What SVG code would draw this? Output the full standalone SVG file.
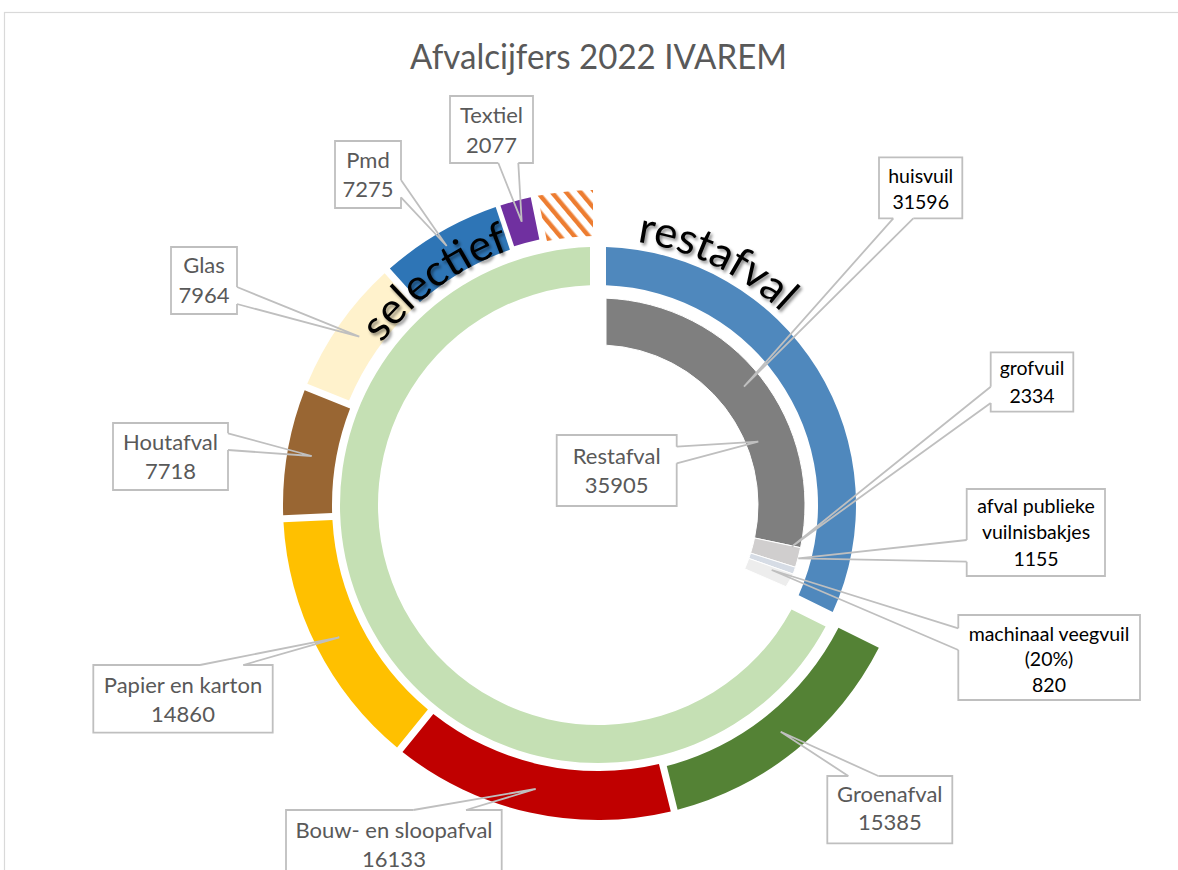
<svg xmlns="http://www.w3.org/2000/svg" width="1178" height="870" viewBox="0 0 1178 870">
<defs>
<style>
.box{fill:none;stroke:#BFBFBF;stroke-width:1.8}
.lead{fill:none;stroke:#BFBFBF;stroke-width:1.8;stroke-linejoin:miter}
.lbl{font-family:Lato,"Liberation Sans",sans-serif;font-size:22px;fill:#595959;text-anchor:middle}
.lbr{font-family:Lato,"Liberation Sans",sans-serif;font-size:19.5px;fill:#000;text-anchor:middle}
.arc{font-family:Lato,"Liberation Sans",sans-serif;font-size:43.5px;fill:#000;filter:url(#sh)}
.sep{stroke:#fff;stroke-width:1}
</style>
<pattern id="hatch" patternUnits="userSpaceOnUse" width="11" height="11" patternTransform="rotate(-40)">
<rect width="11" height="11" fill="#fff"/><rect width="4.5" height="11" fill="#ED7D31"/>
</pattern>
<filter id="sh" x="-20%" y="-20%" width="140%" height="140%">
<feDropShadow dx="2" dy="2.5" stdDeviation="1.5" flood-color="#000" flood-opacity="0.45"/>
</filter>
<path id="pRest" d="M621.18,240.01 A266,266 0 0,1 828.36,372"/>
<path id="pSel" d="M364.17,370 A270,270 0 0,1 551.11,239.1"/>
</defs>
<rect x="4.5" y="12.5" width="1200" height="900" fill="#fff" stroke="#D9D9D9" stroke-width="1.2"/>
<text id="title" x="598.5" y="69" font-family="Lato,'Liberation Sans',sans-serif" font-size="35" fill="#595959" text-anchor="middle" textLength="377" lengthAdjust="spacingAndGlyphs">Afvalcijfers 2022 IVAREM</text>

<g id="ring-outer">
<path id="seg-groenafval" d="M878.83,647.7 A315,315 0 0,1 677.59,809.78 L666.76,766.1 A270,270 0 0,0 838.46,627.79 Z" fill="#548235"/>
<path id="seg-bouw" d="M670.8,811.48 A315,315 0 0,1 402.5,752 L433.34,713.91 A266,266 0 0,0 658.95,763.92 Z" fill="#C00000"/>
<path id="seg-papier" d="M397.05,747.58 A315,315 0 0,1 283.47,522.24 L332.43,520.1 A266,266 0 0,0 427.89,709.5 Z" fill="#FFC000"/>
<path id="seg-hout" d="M283.17,515.24 A315,315 0 0,1 304.64,390.25 L350.08,408.61 A266,266 0 0,0 332.12,513.11 Z" fill="#996633"/>
<path id="seg-glas" d="M307.26,383.76 A315,315 0 0,1 384.63,273.27 L414.71,306.74 A270,270 0 0,0 349.01,400.57 Z" fill="#FFF2CC"/>
<path id="seg-pmd" d="M389.84,268.58 A315,315 0 0,1 495.68,207.08 L509.92,249.77 A270,270 0 0,0 419.99,301.99 Z" fill="#2E75B6"/>
<path id="seg-textiel" d="M500.42,205.49 A315,315 0 0,1 530.7,197.27 L539.34,239.4 A272,272 0 0,0 514.12,246.25 Z" fill="#7030A0"/>
<path id="seg-overig" d="M537.55,195.85 A315,315 0 0,1 593,190.04 L593,236.05 A269,269 0 0,0 546.92,240.89 Z" fill="url(#hatch)"/>
</g>

<g id="ring-middle">
<path id="seg-restafval-totaal" d="M606,247.12 A258,258 0 0,1 832.72,612.07 L798.65,595.24 A220,220 0 0,0 606,285.15 Z" fill="#4F88BD"/>
<path id="seg-selectief-totaal" d="M825.62,626.45 A258,258 0 1,1 590,247.12 L590,285.15 A220,220 0 1,0 791.54,609.6 Z" fill="#C5E0B4"/>
</g>

<g id="ring-inner">
<path id="seg-huisvuil" class="sep" d="M606,298.15 A207,207 0 0,1 800.55,547.68 L754.56,537.99 A160,160 0 0,0 606,345.2 Z" fill="#7F7F7F"/>
<path id="seg-grofvuil" class="sep" d="M800.55,547.68 A207,207 0 0,1 795.42,567.25 L750.6,553.11 A160,160 0 0,0 754.56,537.99 Z" fill="#D0CECE"/>
<path id="seg-publiek" class="sep" d="M795.42,567.25 A207,207 0 0,1 793.13,574.1 L748.82,558.41 A160,160 0 0,0 750.6,553.11 Z" fill="#D6DCE5"/>
<path id="seg-veegvuil" class="sep" d="M793.13,574.1 A205,205 0 0,1 786,586.7 L744.7,568.8 A160,160 0 0,0 748.82,558.41 Z" fill="#EDEDED"/>
</g>

<g id="arc-labels">
<text class="arc"><textPath href="#pRest" startOffset="16">restafval</textPath></text>
<text class="arc"><textPath href="#pSel" startOffset="32">selectief</textPath></text>
</g>

<g id="connectors">
<path class="lead" d="M498.3,163 L521.7,221.7 L518.3,163"/>
<path class="lead" d="M401,180 L446.7,246 L401,197.3"/>
<path class="lead" d="M237,287 L359.3,336.7 L237,304"/>
<path class="lead" d="M228,433.3 L311.7,456 L228,450"/>
<path class="lead" d="M200,665 L339.3,637.3 L243.3,665"/>
<path class="lead" d="M413.3,810 L535.7,789 L466,810"/>
<path class="lead" d="M848.3,776 L780.7,731.7 L878.3,776"/>
<path class="lead" d="M893.3,218.3 L744,386.7 L913.3,218.3"/>
<path class="lead" d="M990.7,386.7 L791.7,546.7 L990.7,403"/>
<path class="lead" d="M966.7,540 L798.3,558.3 L966.7,561.7"/>
<path class="lead" d="M958.3,628.3 L771.7,570 L958.3,650"/>
<path class="lead" d="M676.7,446.7 L758.3,441.7 L676.7,463.3"/>
</g>

<g id="label-textiel"><path class="box" d="M518.3,163 H533 V96 H450 V163 H498.3"/><text class="lbl" x="491.5" y="123.3">Textiel</text><text class="lbl" x="491.5" y="152.7">2077</text></g>
<g id="label-pmd"><path class="box" d="M401,180 V141 H335 V208 H401 V197.3"/><text class="lbl" x="368" y="168">Pmd</text><text class="lbl" x="368" y="197">7275</text></g>
<g id="label-glas"><path class="box" d="M237,287 V247 H171 V314 H237 V304"/><text class="lbl" x="204" y="273.3">Glas</text><text class="lbl" x="204" y="302.7">7964</text></g>
<g id="label-hout"><path class="box" d="M228,433.3 V423 H113 V490 H228 V450"/><text class="lbl" x="170.5" y="450">Houtafval</text><text class="lbl" x="170.5" y="479.3">7718</text></g>
<g id="label-papier"><path class="box" d="M200,665 H93.3 V732.7 H272.7 V665 H243.3"/><text class="lbl" x="183" y="693.3">Papier en karton</text><text class="lbl" x="183" y="721.7">14860</text></g>
<g id="label-bouw"><path class="box" d="M413.3,810 H286 V880 M466,810 H501.7 V880"/><text class="lbl" x="394" y="838.3">Bouw- en sloopafval</text><text class="lbl" x="394" y="866.7">16133</text></g>
<g id="label-groen"><path class="box" d="M848.3,776 H827.3 V843.3 H952.3 V776 H878.3"/><text class="lbl" x="889.8" y="801.7">Groenafval</text><text class="lbl" x="889.8" y="830">15385</text></g>
<g id="label-restafval"><path class="box" d="M676.7,446.7 V435 H556.7 V506 H676.7 V463.3"/><text class="lbl" x="616.7" y="464">Restafval</text><text class="lbl" x="616.7" y="492.7">35905</text></g>
<g id="label-huisvuil"><path class="box" d="M893.3,218.3 H879 V157.3 H962.3 V218.3 H913.3"/><text class="lbr" x="920.7" y="182.7">huisvuil</text><text class="lbr" x="920.7" y="209.3">31596</text></g>
<g id="label-grofvuil"><path class="box" d="M990.7,386.7 V352.3 H1073.3 V411.7 H990.7 V403"/><text class="lbr" x="1032" y="375">grofvuil</text><text class="lbr" x="1032" y="403.3">2334</text></g>
<g id="label-publiek"><path class="box" d="M966.7,540 V489 H1105 V576 H966.7 V561.7"/><text class="lbr" x="1036" y="513.3">afval publieke</text><text class="lbr" x="1036" y="539.3">vuilnisbakjes</text><text class="lbr" x="1036" y="565.7">1155</text></g>
<g id="label-veegvuil"><path class="box" d="M958.3,628.3 V615 H1140 V700 H958.3 V650"/><text class="lbr" x="1049" y="641">machinaal veegvuil</text><text class="lbr" x="1049" y="666">(20%)</text><text class="lbr" x="1049" y="691.7">820</text></g>
</svg>
